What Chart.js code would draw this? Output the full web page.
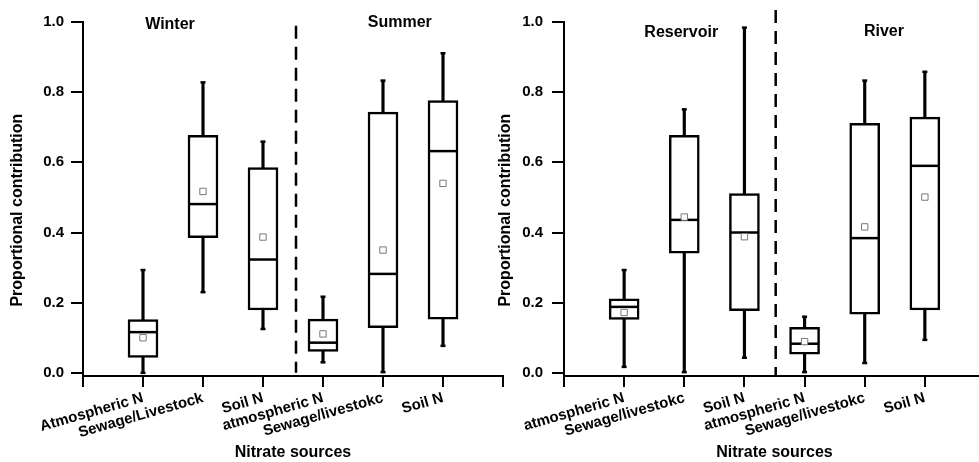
<!DOCTYPE html>
<html>
<head>
<meta charset="utf-8">
<script src="https://cdn.jsdelivr.net/npm/chart.js@4.4.0/dist/chart.umd.min.js"></script>
<style>
  html, body { margin: 0; padding: 0; background: #fff; overflow: hidden; }
  #wrap { position: relative; width: 979px; height: 462px; overflow: hidden; }
  .panel { position: absolute; top: 0; }
  #left { left: 0; }
  #right { left: 481px; }
</style>
</head>
<body>
<div id="wrap">
  <div class="panel" id="left"><canvas id="chart1" width="520" height="462"></canvas></div>
  <div class="panel" id="right"><canvas id="chart2" width="521" height="462"></canvas></div>
</div>
<script>
// y ticks shared by both panels
const yTicks = [0, 0.2, 0.4, 0.6, 0.8, 1.0];
const xTicks = [0, 1, 2, 3, 4, 5, 6, 7];

// left panel: Winter / Summer
const seasonLabels = ["Atmospheric N", "Sewage/Livestock", "Soil N", "atmospheric N", "Sewage/livestokc", "Soil N"];
const seasonMin    = [0.000, 0.230, 0.125, 0.030, 0.002, 0.077];
const seasonQ1     = [0.044, 0.385, 0.179, 0.061, 0.129, 0.153];
const seasonMedian = [0.116, 0.481, 0.323, 0.086, 0.282, 0.632];
const seasonQ3     = [0.152, 0.677, 0.585, 0.153, 0.743, 0.776];
const seasonMax    = [0.293, 0.828, 0.659, 0.217, 0.833, 0.911];
const seasonMean   = [0.100, 0.517, 0.387, 0.111, 0.350, 0.540];

// right panel: Reservoir / River
const waterLabels = ["atmospheric N", "Sewage/livestokc", "Soil N", "atmospheric N", "Sewage/livestokc", "Soil N"];
const waterMin    = [0.017, 0.002, 0.043, 0.002, 0.028, 0.094];
const waterQ1     = [0.152, 0.341, 0.177, 0.053, 0.167, 0.179];
const waterMedian = [0.188, 0.436, 0.400, 0.083, 0.384, 0.590];
const waterQ3     = [0.211, 0.677, 0.511, 0.130, 0.711, 0.729];
const waterMax    = [0.293, 0.751, 0.984, 0.160, 0.833, 0.858];
const waterMean   = [0.172, 0.444, 0.388, 0.089, 0.416, 0.501];

Chart.defaults.font.family = '"Liberation Sans", Arial, Helvetica, sans-serif';
Chart.defaults.color = '#000';

const FONT = '"Liberation Sans", Arial, Helvetica, sans-serif';

// draws the group names (Winter, Summer, ...) inside the plot
const panelText = {
    id: 'panelText',
    afterDatasetsDraw(chart, args, opts) {
        const ctx = chart.ctx;
        const xs = chart.scales.x;
        const ys = chart.scales.y;
        ctx.save();
        ctx.font = 'bold 16px ' + FONT;
        ctx.fillStyle = '#000';
        ctx.textAlign = 'center';
        ctx.textBaseline = 'middle';
        for (let i = 0; i < opts.text.length; i++) {
            ctx.fillText(opts.text[i], xs.getPixelForValue(opts.x[i]), ys.getPixelForValue(opts.y[i]));
        }
        ctx.restore();
    }
};

function boxChart(id, labels, wMin, q1, med, q3, wMax, mean, panel) {
    const pts = (arr) => arr.map((v, i) => ({ x: i + 1, y: v }));
    const ranges = (lo, hi) => lo.map((v, i) => ({ x: i + 1, y: [v, hi[i]] }));

    new Chart(document.getElementById(id), {
        type: 'bar',
        data: {
            datasets: [
                {   // separator between the two groups
                    type: 'line',
                    data: [{ x: panel.sepX, y: panel.sepTop }, { x: panel.sepX, y: panel.sepBottom }],
                    borderColor: '#000',
                    borderWidth: 2.5,
                    borderDash: [13, 8],
                    pointRadius: 0,
                    clip: false,
                    order: 6
                },
                {   // whiskers
                    data: ranges(wMin, wMax),
                    backgroundColor: '#000',
                    barThickness: 2.5,
                    grouped: false,
                    order: 5
                },
                {   // boxes
                    data: ranges(q1, q3),
                    backgroundColor: '#fff',
                    borderColor: '#000',
                    borderWidth: 2.5,
                    borderSkipped: false,
                    barThickness: 30,
                    grouped: false,
                    order: 4
                },
                {   // medians
                    type: 'scatter',
                    data: pts(med),
                    pointStyle: 'line',
                    pointRadius: 14.5,
                    pointBorderColor: '#000',
                    pointBorderWidth: 2.5,
                    order: 3
                },
                {   // whisker caps
                    type: 'scatter',
                    data: pts(wMin).concat(pts(wMax)),
                    pointStyle: 'line',
                    pointRadius: 2.5,
                    pointBorderColor: '#000',
                    pointBorderWidth: 2.5,
                    order: 2
                },
                {   // means
                    type: 'scatter',
                    data: pts(mean),
                    pointStyle: 'rect',
                    pointRadius: 4.5,
                    pointBackgroundColor: '#fff',
                    pointBorderColor: '#777',
                    pointBorderWidth: 1,
                    order: 1
                }
            ]
        },
        options: {
            responsive: false,
            animation: false,
            events: [],
            layout: { padding: { top: 22, right: panel.padRight, bottom: 0, left: 0 } },
            plugins: {
                legend: { display: false },
                tooltip: { enabled: false },
                panelText: { text: panel.titles, x: panel.titleX, y: panel.titleY }
            },
            scales: {
                x: {
                    type: 'linear',
                    min: 0,
                    max: 7,
                    offset: false,
                    afterBuildTicks: (s) => { s.ticks = xTicks.map(v => ({ value: v })); },
                    afterFit: (s) => { s.height = 86; },
                    ticks: {
                        autoSkip: false,
                        minRotation: 16,
                        maxRotation: 16,
                        padding: 2,
                        font: { size: 15, weight: 'bold' },
                        callback: (v) => labels[v - 1] || ''
                    },
                    grid: { offset: false, drawOnChartArea: false, drawTicks: true, tickLength: 11, color: '#000', lineWidth: 2 },
                    border: { display: true, color: '#000', width: 2 },
                    title: { display: true, text: 'Nitrate sources', font: { size: 16, weight: 'bold' }, padding: 0 }
                },
                y: {
                    min: -0.009,
                    max: 1.0,
                    afterBuildTicks: (s) => { s.ticks = yTicks.map(v => ({ value: v })); },
                    afterFit: (s) => { s.width = 83; },
                    ticks: {
                        padding: panel.yPad,
                        font: { size: 15, weight: 'bold' },
                        callback: (v) => v.toFixed(1)
                    },
                    grid: { drawOnChartArea: false, drawTicks: true, tickLength: 12, color: '#000', lineWidth: 2 },
                    border: { display: true, color: '#000', width: 2 },
                    title: { display: true, text: 'Proportional contribution     ', font: { size: 16, weight: 'bold' }, padding: { top: panel.titlePad, bottom: 0 } }
                }
            }
        },
        plugins: [panelText]
    });
}

boxChart('chart1', seasonLabels, seasonMin, seasonQ1, seasonMedian, seasonQ3, seasonMax, seasonMean, {
    titles: ['Winter', 'Summer'], titleX: [1.45, 5.28], titleY: [0.994, 0.997],
    sepX: 3.55, sepTop: 0.989, sepBottom: 0, padRight: 17, yPad: 7, titlePad: 8
});

boxChart('chart2', waterLabels, waterMin, waterQ1, waterMedian, waterQ3, waterMax, waterMean, {
    titles: ['Reservoir', 'River'], titleX: [1.95, 5.32], titleY: [0.969, 0.972],
    sepX: 3.52, sepTop: 1.034, sepBottom: -0.009, padRight: 0, yPad: 9, titlePad: 15
});
</script>
</body>
</html>
